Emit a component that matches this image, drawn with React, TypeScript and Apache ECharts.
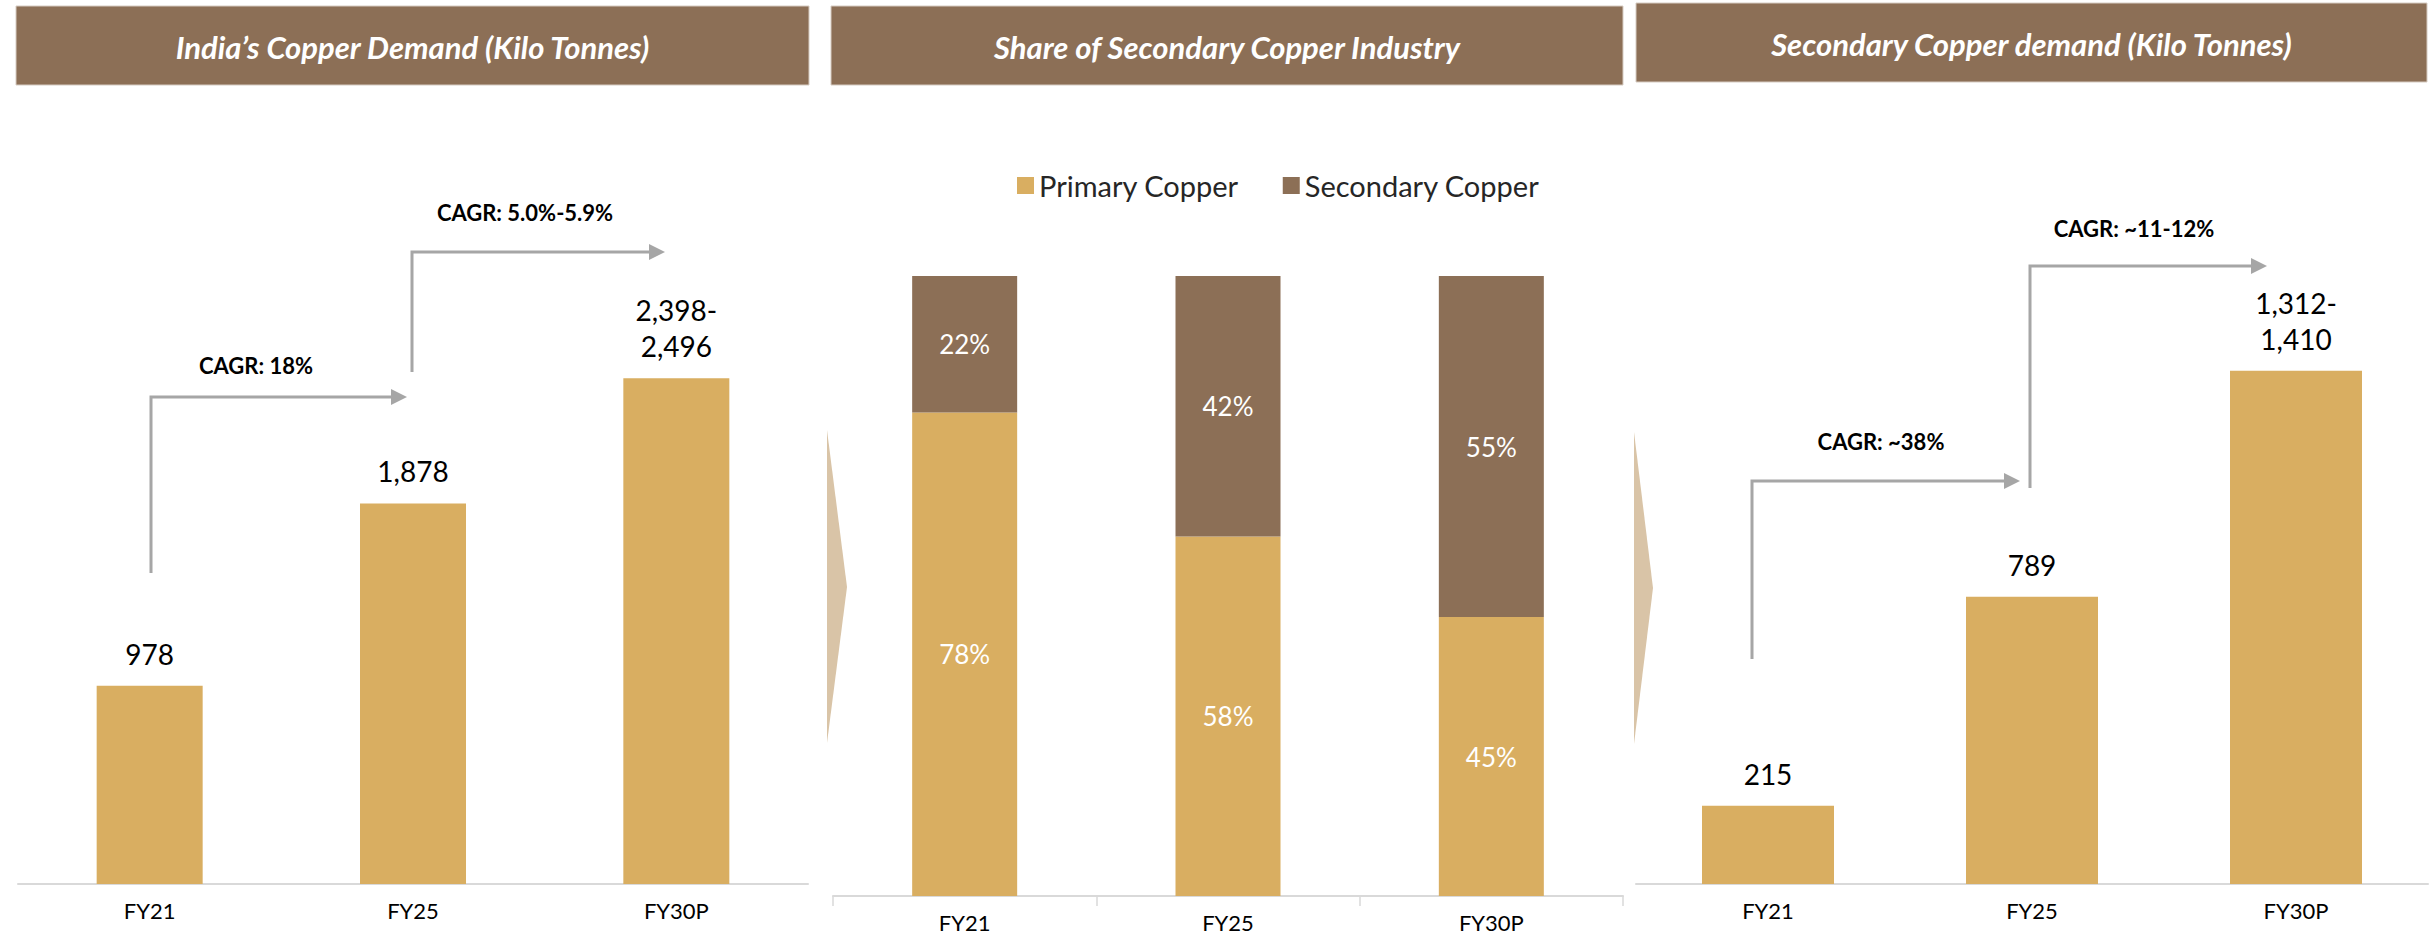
import React, { useEffect, useRef } from "react";
import * as echarts from "echarts";

// ---------- data ----------
const categories = ["FY21", "FY25", "FY30P"];
const panelTitles = [
  "India\u2019s Copper Demand (Kilo Tonnes)",
  "Share of Secondary Copper Industry",
  "Secondary Copper demand (Kilo Tonnes)",
];
const copperDemand = [978, 1878, 2496];
const copperDemandLabels = ["978", "1,878", "2,398-\n2,496"];
const primaryShare = [78, 58, 45];
const secondaryShare = [22, 42, 55];
const secondaryDemand = [215, 789, 1410];
const secondaryDemandLabels = ["215", "789", "1,312-\n1,410"];
const cagrLeft = ["CAGR: 18%", "CAGR: 5.0%-5.9%"];
const cagrRight = ["CAGR: ~38%", "CAGR: ~11-12%"];
const legendNames = ["Primary Copper", "Secondary Copper"];

// ---------- styles ----------
const GOLD = "#D9AE61";
const BROWN = "#8C6F56";
const GREY = "#A6A6A6";
const AXIS = "#D9D9D9";
const FONT = "Lato, 'Open Sans', sans-serif";

type Arrow = { x: number; y0: number; y1: number; x1: number; tx: number; ty: number; text: string };

function elbowArrow(a: Arrow): any[] {
  const head = 15;
  const half = 8;
  return [
    {
      type: "polyline",
      shape: { points: [[a.x, a.y0], [a.x, a.y1], [a.x1 - head, a.y1]] },
      style: { stroke: GREY, lineWidth: 3, fill: "none" },
      silent: true,
    },
    {
      type: "polygon",
      shape: { points: [[a.x1 - head - 1, a.y1 - half], [a.x1, a.y1], [a.x1 - head - 1, a.y1 + half]] },
      style: { fill: GREY },
      silent: true,
    },
    {
      type: "text",
      x: a.tx,
      y: a.ty,
      style: {
        text: a.text,
        fill: "#000",
        font: `bold 22px ${FONT}`,
        align: "center",
        verticalAlign: "middle",
      },
      silent: true,
    },
  ];
}

function titleBar(x: number, y: number, w: number, h: number, text: string): any[] {
  return [
    {
      type: "rect",
      shape: { x, y, width: w, height: h },
      style: { fill: BROWN, stroke: "#D6CCC2", lineWidth: 1 },
      silent: true,
    },
    {
      type: "text",
      x: x + w / 2,
      y: y + h / 2 + 1,
      style: {
        text,
        fill: "#fff",
        font: `italic bold 31px ${FONT}`,
        align: "center",
        verticalAlign: "middle",
      },
      silent: true,
    },
  ];
}

export default function App() {
  const ref = useRef<HTMLDivElement>(null);

  useEffect(() => {
    if (!ref.current) return;
    const chart = echarts.init(ref.current, undefined, { renderer: "svg" });

    const catAxis = (gridIndex: number, ticks: boolean) => ({
      type: "category",
      gridIndex,
      data: categories,
      axisLine: { show: true, lineStyle: { color: AXIS, width: 2 } },
      axisTick: { show: ticks, alignWithLabel: false, length: 10, lineStyle: { color: AXIS, width: 1.5 } },
      axisLabel: { color: "#000", fontSize: 22, fontFamily: FONT, margin: 15 },
    });
    const valAxis = (gridIndex: number, max: number) => ({
      type: "value",
      gridIndex,
      min: 0,
      max,
      show: false,
      splitLine: { show: false },
    });

    const valueLabel = (texts: string[]) => ({
      show: true,
      position: "top",
      distance: 14,
      color: "#000",
      fontSize: 28,
      lineHeight: 36,
      fontFamily: FONT,
      formatter: (p: any) => texts[p.dataIndex],
    });

    const pctLabel = {
      show: true,
      position: "inside",
      color: "#fff",
      fontSize: 26,
      fontFamily: FONT,
      formatter: (p: any) => `${p.value}%`,
    };

    const arrows: Arrow[] = [
      { x: 151, y0: 573, y1: 397, x1: 407, tx: 256, ty: 365, text: cagrLeft[0] },
      { x: 412, y0: 372, y1: 252, x1: 665, tx: 525, ty: 212, text: cagrLeft[1] },
      { x: 1752, y0: 659, y1: 481, x1: 2020, tx: 1881, ty: 441, text: cagrRight[0] },
      { x: 2030, y0: 488, y1: 266, x1: 2267, tx: 2134, ty: 228, text: cagrRight[1] },
    ];

    const graphics: any[] = [
      ...titleBar(16, 6, 793, 79, panelTitles[0]),
      ...titleBar(831, 6, 792, 79, panelTitles[1]),
      ...titleBar(1636, 3, 791, 79, panelTitles[2]),
      {
        type: "polygon",
        shape: { points: [[827, 430], [847, 587], [827, 743]] },
        style: { fill: "#D9C4A7" },
        silent: true,
      },
      {
        type: "polygon",
        shape: { points: [[1634, 432], [1653, 588], [1634, 744]] },
        style: { fill: "#D9C4A7" },
        silent: true,
      },
      ...arrows.flatMap(elbowArrow),
    ];

    chart.setOption({
      animation: false,
      backgroundColor: "#fff",
      textStyle: { fontFamily: FONT },
      grid: [
        { left: 18, width: 790, top: 276, bottom: 51 },
        { left: 833, width: 790, top: 276, bottom: 39 },
        { left: 1636, width: 792, top: 156, bottom: 51 },
      ],
      legend: {
        data: legendNames,
        left: 1012,
        top: 166,
        icon: "rect",
        itemWidth: 17,
        itemHeight: 17,
        itemGap: 44,
        textStyle: { fontSize: 29, color: "#262626", fontFamily: FONT },
      },
      xAxis: [catAxis(0, false), catAxis(1, true), catAxis(2, false)],
      yAxis: [valAxis(0, 3000), valAxis(1, 100), valAxis(2, 2000)],
      series: [
        {
          name: "India Copper Demand",
          type: "bar",
          xAxisIndex: 0,
          yAxisIndex: 0,
          data: copperDemand,
          barWidth: 106,
          itemStyle: { color: GOLD },
          label: valueLabel(copperDemandLabels),
        },
        {
          name: legendNames[0],
          type: "bar",
          stack: "share",
          xAxisIndex: 1,
          yAxisIndex: 1,
          data: primaryShare,
          barWidth: 105,
          itemStyle: { color: GOLD },
          label: pctLabel,
        },
        {
          name: legendNames[1],
          type: "bar",
          stack: "share",
          xAxisIndex: 1,
          yAxisIndex: 1,
          data: secondaryShare,
          barWidth: 105,
          itemStyle: { color: BROWN },
          label: pctLabel,
        },
        {
          name: "Secondary Copper Demand",
          type: "bar",
          xAxisIndex: 2,
          yAxisIndex: 2,
          data: secondaryDemand,
          barWidth: 132,
          itemStyle: { color: GOLD },
          label: valueLabel(secondaryDemandLabels),
        },
      ],
      graphic: graphics,
    });

    return () => chart.dispose();
  }, []);

  return (
    <div
      ref={ref}
      style={{ position: "fixed", left: 0, top: 0, width: 2429, height: 935, background: "#fff" }}
    />
  );
}
